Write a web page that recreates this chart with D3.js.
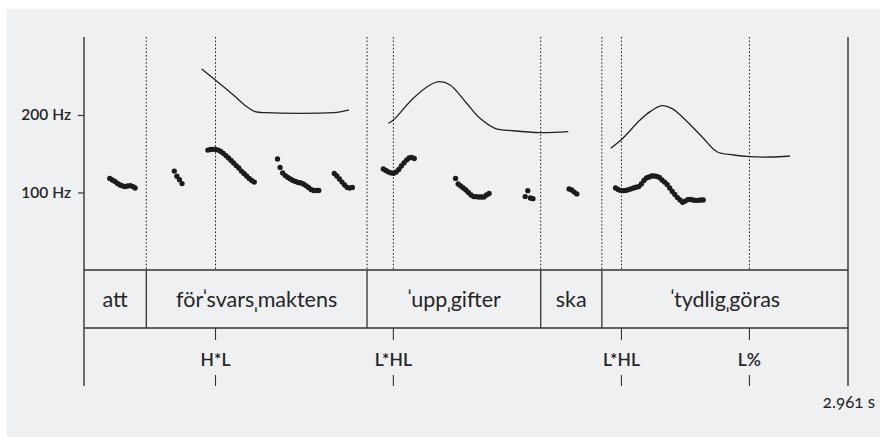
<!DOCTYPE html>
<html>
<head>
<meta charset="utf-8">
<script src="https://cdn.jsdelivr.net/npm/d3@7"></script>
<style>
  body { margin: 0; background: #fff; }
  svg { display: block; }
  text { font-family: Lato, "Noto Sans", "DejaVu Sans", sans-serif; fill: #262626; }
</style>
</head>
<body>
<svg id="chart" width="880" height="437"></svg>
<script>
// total length of the recording (s)
var duration = 2.961;

// word tier
var words = ["att", "förˈsvarsˌmaktens", "ˈuppˌgifter", "ska", "ˈtydligˌgöras"];
var wordBounds = [0, 0.2415, 1.097, 1.770, 2.007, 2.961];

// tone tier
var tones = ["H*L", "L*HL", "L*HL", "L%"];
var toneTimes = [0.5097, 1.199, 2.083, 2.579];

var hzTicks = [100, 200];

// measured f0 (time s, Hz), one list per voiced stretch
var f0Att = [[0.10,118.1],[0.11,116.1],[0.12,114.2],[0.13,111.6],[0.14,109.7],[0.15,108.4],[0.16,107.7],[0.17,108.4],[0.18,109.0],[0.19,107.7],[0.198,105.8]];
var f0For = [[0.35,127.7],[0.36,121.0],[0.37,116.5],[0.38,111.5]];
var f0Svars = [[0.48,154.8],[0.49,155.5],[0.50,155.7],[0.51,155.7],[0.52,154.8],[0.53,152.9],[0.54,150.6],[0.55,147.7],[0.56,144.5],[0.57,141.3],[0.58,138.1],[0.59,134.8],[0.60,131.6],[0.61,127.7],[0.62,124.5],[0.63,121.3],[0.64,118.1],[0.65,115.5],[0.66,113.5]];
var f0Maktens = [[0.75,143.2],[0.76,132.3],[0.77,125.2],[0.78,121.9],[0.79,119.4],[0.80,117.4],[0.81,115.5],[0.82,114.2],[0.83,112.9],[0.84,112.3],[0.85,111.0],[0.86,109.0],[0.87,106.5],[0.88,103.9],[0.89,102.6],[0.90,102.6],[0.91,102.6]];
var f0Tens = [[0.97,124.5],[0.98,121.3],[0.99,117.4],[1.00,113.5],[1.01,109.7],[1.02,106.5],[1.03,105.8],[1.04,106.5]];
var f0Upp = [[1.16,130.3],[1.17,128.4],[1.18,126.5],[1.19,125.2],[1.20,124.8],[1.21,126.5],[1.22,129.7],[1.23,134.2],[1.24,138.1],[1.25,141.9],[1.26,144.5],[1.27,145.2],[1.28,143.9]];
var f0Gifter = [[1.44,118.1],[1.45,111.0],[1.46,108.4],[1.47,105.8],[1.48,103.2],[1.49,100.0],[1.50,96.8],[1.51,94.8],[1.52,94.6],[1.53,94.2],[1.54,94.2],[1.55,94.2],[1.56,96.8],[1.57,98.7]];
var f0Ter = [[1.71,94.8],[1.72,102.3],[1.73,92.9],[1.74,92.0]];
var f0Ska = [[1.88,104.5],[1.89,103.2],[1.90,100.6],[1.91,98.1]];
var f0Tydlig = [[2.06,105.8],[2.07,103.9],[2.08,102.7],[2.09,102.3],[2.10,102.7],[2.11,103.6],[2.12,104.8],[2.13,105.8],[2.14,106.8],[2.15,107.7],[2.16,111.0],[2.17,115.5],[2.18,118.7],[2.19,120.0],[2.20,121.3],[2.21,121.3],[2.22,120.9],[2.23,119.4],[2.24,116.1],[2.25,113.5],[2.26,110.3],[2.27,105.8],[2.28,101.3],[2.29,97.4],[2.30,93.5],[2.31,90.3],[2.32,87.4],[2.33,89.0],[2.34,90.7],[2.35,91.2],[2.36,90.3],[2.37,89.9],[2.38,89.9],[2.39,90.3],[2.40,90.3]];

// stylised model contours (time s, Hz)
var model1 = [[0.456,259.4],[0.509,245.2],[0.579,225.8],[0.631,210.7],[0.663,204.3],[0.708,203.0],[0.837,202.2],[0.966,203.0],[0.992,203.9],[1.027,206.5]];
var model2 = [[1.1795,189.3],[1.199,193.5],[1.276,221.5],[1.341,238.7],[1.377,243.0],[1.419,238.7],[1.483,215.1],[1.535,195.7],[1.593,182.8],[1.664,179.7],[1.767,177.2],[1.877,178.5]];
var model3 = [[2.0415,157.0],[2.084,168.6],[2.155,193.5],[2.194,204.3],[2.239,212.0],[2.278,208.6],[2.318,197.8],[2.395,172.0],[2.453,152.6],[2.517,148.4],[2.581,146.2],[2.659,145.8],[2.736,147.1]];

var f0Tracks = [f0Att, f0For, f0Svars, f0Maktens, f0Tens, f0Upp, f0Gifter, f0Ter, f0Ska, f0Tydlig];
var models = [model1, model2, model3];

var svg = d3.select("#chart");

var plotTop = 37, plotBottom = 270;
var tierBottom = 328;
var frameBottom = 386;

var x = d3.scaleLinear().domain([0, duration]).range([84, 848]);
var y = d3.scaleLinear().domain([0, 300]).range([plotBottom, 37.5]);

// panel background
svg.append("rect")
    .attr("x", 7).attr("y", 9)
    .attr("width", 873).attr("height", 428)
    .attr("fill", "#eff0f2");

// dotted guides: word boundaries and tone targets
var guides = wordBounds.slice(1, -1).concat(toneTimes);
svg.append("g").selectAll("line").data(guides).enter().append("line")
    .attr("x1", d => x(d)).attr("x2", d => x(d))
    .attr("y1", plotTop).attr("y2", plotBottom)
    .attr("stroke", "#222")
    .attr("stroke-width", 1)
    .attr("stroke-dasharray", "1.6,2");

// frame: left and right time edges
svg.append("g").selectAll("line").data([0, duration]).enter().append("line")
    .attr("x1", d => x(d)).attr("x2", d => x(d))
    .attr("y1", plotTop).attr("y2", frameBottom)
    .attr("stroke", "#333")
    .attr("stroke-width", 1.4);

// y axis ticks
var yAxis = d3.axisLeft(y)
    .tickValues(hzTicks)
    .tickFormat(d => d + " Hz")
    .tickSize(6)
    .tickPadding(7);

var yg = svg.append("g")
    .attr("transform", `translate(${x(0)},0)`)
    .call(yAxis);
yg.select(".domain").remove();
yg.selectAll(".tick line").attr("stroke", "#333").attr("stroke-width", 1.2);
yg.selectAll(".tick text")
    .style("font-family", "Lato, 'Noto Sans', sans-serif")
    .style("font-size", "15.5px")
    .style("font-weight", "600")
    .attr("fill", "#262626");

// model contours
var line = d3.line()
    .x(d => x(d[0]))
    .y(d => y(d[1]))
    .curve(d3.curveCatmullRom.alpha(0.5));

svg.append("g").selectAll("path").data(models).enter().append("path")
    .attr("d", line)
    .attr("fill", "none")
    .attr("stroke", "#222")
    .attr("stroke-width", 1.3);

// pitch points
svg.append("g").selectAll("circle").data(f0Tracks.flat()).enter().append("circle")
    .attr("cx", d => x(d[0]))
    .attr("cy", d => y(d[1]))
    .attr("r", 2.65)
    .attr("fill", "#1c1c1c");

// word tier box
var tier = svg.append("g");
tier.selectAll("line.h").data([plotBottom, tierBottom]).enter().append("line")
    .attr("class", "h")
    .attr("x1", x(0)).attr("x2", x(duration))
    .attr("y1", d => d).attr("y2", d => d)
    .attr("stroke", "#333").attr("stroke-width", 1.3);

tier.selectAll("line.v").data(wordBounds.slice(1, -1)).enter().append("line")
    .attr("class", "v")
    .attr("x1", d => x(d)).attr("x2", d => x(d))
    .attr("y1", plotBottom).attr("y2", tierBottom)
    .attr("stroke", "#333").attr("stroke-width", 1.3);

// stress marks come from a fallback font with wider side bearings, so pull them in a little
function splitStress(word) {
    var parts = [];
    var buf = "";
    for (var ch of word) {
        if (ch == "ˈ" || ch == "ˌ") {
            if (buf) parts.push({t: buf, mark: false});
            parts.push({t: ch, mark: true});
            buf = "";
        } else {
            buf += ch;
        }
    }
    if (buf) parts.push({t: buf, mark: false});
    return parts;
}

var wordText = tier.selectAll("text").data(words).enter().append("text")
    .attr("x", (d, i) => (x(wordBounds[i]) + x(wordBounds[i + 1])) / 2)
    .attr("y", 307)
    .attr("text-anchor", "middle")
    .style("font-size", "21.5px");

wordText.selectAll("tspan").data(d => splitStress(d)).enter().append("tspan")
    .attr("dx", (d, i) => (i == 0 ? 0 : -1))
    .text(d => d.t);

// tone tier
var toneG = svg.append("g").selectAll("g").data(toneTimes).enter().append("g");
toneG.append("line")
    .attr("x1", d => x(d)).attr("x2", d => x(d))
    .attr("y1", tierBottom).attr("y2", 340)
    .attr("stroke", "#333").attr("stroke-width", 1.1);
toneG.append("line")
    .attr("x1", d => x(d)).attr("x2", d => x(d))
    .attr("y1", 375).attr("y2", frameBottom)
    .attr("stroke", "#333").attr("stroke-width", 1.1);
toneG.append("text")
    .attr("x", d => x(d))
    .attr("y", 366)
    .attr("text-anchor", "middle")
    .style("font-size", "17.5px")
    .style("font-weight", "600")
    .text((d, i) => tones[i]);

// end time label
svg.append("text")
    .attr("x", x(duration) + 1)
    .attr("y", 408)
    .attr("text-anchor", "middle")
    .style("font-size", "17px")
    .style("font-variant-numeric", "oldstyle-nums")
    .text(duration + " s");
</script>
</body>
</html>
